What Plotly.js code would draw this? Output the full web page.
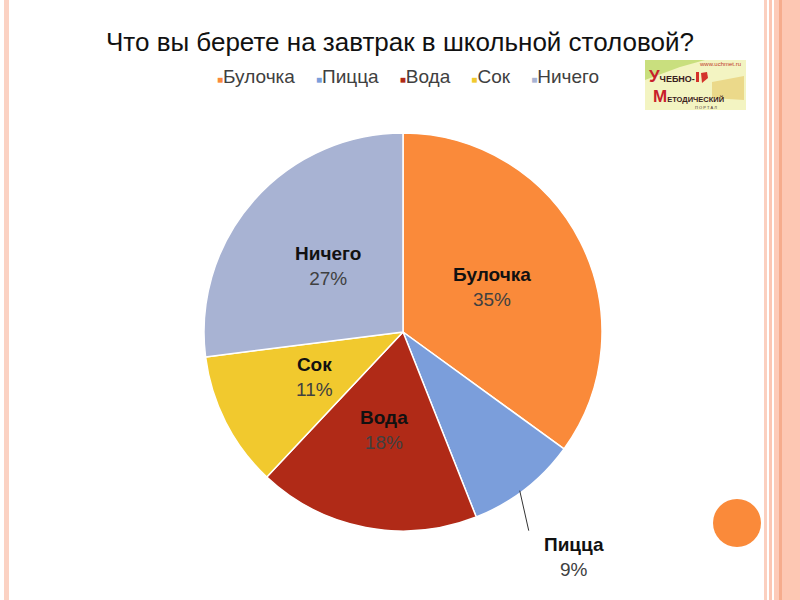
<!DOCTYPE html>
<html>
<head>
<meta charset="utf-8">
<script src="https://cdn.plot.ly/plotly-3.0.1.min.js"></script>
<style>html,body{margin:0;padding:0;background:#fff;}#chart{width:800px;height:600px;}</style>
</head>
<body>
<div id="chart"></div>
<script>
// ---- data ----
const categories = ['Булочка', 'Пицца', 'Вода', 'Сок', 'Ничего'];
const values = [35, 9, 18, 11, 27];
const colors = ['#FA8A3A', '#7B9EDB', '#B02A17', '#F1C92E', '#A8B3D3'];
const outsideLabel = 'Пицца';
const chartTitle = 'Что вы берете на завтрак в школьной столовой?';

// ---- geometry (style) ----
const W = 800, H = 600;
const cx = 403, cy = 332, R = 199;
const FONT = 'Liberation Sans, Arial, sans-serif';
const P = (x) => x / W, Q = (y) => 1 - y / H;

const trace = {
  type: 'pie',
  labels: categories,
  values: values,
  sort: false,
  direction: 'clockwise',
  rotation: 0,
  marker: {colors: colors, line: {color: '#ffffff', width: 1.5}},
  textinfo: 'none',
  textposition: 'none',
  hoverinfo: 'label+percent',
  showlegend: false,
  domain: {x: [(cx - R) / W, (cx + R) / W], y: [1 - (cy + R) / H, 1 - (cy - R) / H]}
};

// data labels placed along each slice bisector (from the data)
const total = values.reduce((a, b) => a + b, 0);
const annotations = [];
const shapes = [];
let cum = 0;
const labelText = (c, v) => '<b>' + c + '</b><br><span style="color:#404040">' + v + '%</span>';
categories.forEach((c, i) => {
  const mid = 2 * Math.PI * (cum + values[i] / 2) / total;
  cum += values[i];
  const s = Math.sin(mid), co = Math.cos(mid);
  if (c === outsideLabel) {
    const px0 = cx + 0.99 * R * s - 4, py0 = cy - 0.99 * R * co + 3;
    shapes.push({type: 'line', xref: 'paper', yref: 'paper', x0: P(px0), y0: Q(py0), x1: P(px0 + 9), y1: Q(py0 + 40),
                 line: {color: '#333333', width: 1}});
    annotations.push({xref: 'paper', yref: 'paper', x: P(px0 + 54), y: Q(py0 + 66), xanchor: 'center', yanchor: 'middle',
                      showarrow: false, align: 'center', text: labelText(c, values[i]),
                      font: {family: FONT, size: 19, color: '#111111'}});
  } else {
    const lx = cx + 0.5 * R * s, ly = cy - 0.5 * R * co;
    annotations.push({xref: 'paper', yref: 'paper', x: P(lx), y: Q(ly), xanchor: 'center', yanchor: 'middle',
                      showarrow: false, align: 'center', text: labelText(c, values[i]),
                      font: {family: FONT, size: 19, color: '#111111'}});
  }
});

// legend row (coloured squares + names from the data)
const legendText = categories.map((c, i) =>
  '<span style="color:' + colors[i] + ';font-size:10px">■</span>' + c).join('\u00A0\u00A0\u00A0\u00A0');
annotations.push({xref: 'paper', yref: 'paper', x: P(408), y: Q(76), xanchor: 'center', yanchor: 'middle',
                  showarrow: false, text: legendText, font: {family: FONT, size: 19, color: '#404040'}});

// decorations
shapes.push(
  {type: 'rect', xref: 'paper', yref: 'paper', x0: P(4), x1: P(9), y0: 0, y1: 1, fillcolor: '#FBD2C3', line: {width: 0}, layer: 'below'},
  {type: 'rect', xref: 'paper', yref: 'paper', x0: P(764), x1: P(767), y0: 0, y1: 1, fillcolor: '#FBCFBF', line: {width: 0}, layer: 'below'},
  {type: 'rect', xref: 'paper', yref: 'paper', x0: P(769), x1: P(772), y0: 0, y1: 1, fillcolor: '#FCC6B3', line: {width: 0}, layer: 'below'},
  {type: 'rect', xref: 'paper', yref: 'paper', x0: P(774), x1: P(779), y0: 0, y1: 1, fillcolor: '#FDCBB9', line: {width: 0}, layer: 'below'},
  {type: 'rect', xref: 'paper', yref: 'paper', x0: P(779), x1: P(782), y0: 0, y1: 1, fillcolor: '#F6AC8D', line: {width: 0}, layer: 'below'},
  {type: 'rect', xref: 'paper', yref: 'paper', x0: P(782), x1: P(800), y0: 0, y1: 1, fillcolor: '#FDC7B3', line: {width: 0}, layer: 'below'},
  {type: 'circle', xref: 'paper', yref: 'paper', x0: P(713), x1: P(761), y0: Q(547), y1: Q(499), fillcolor: '#FA8A3A', line: {width: 0}},
  // logo background
  {type: 'rect', xref: 'paper', yref: 'paper', x0: P(645), x1: P(746), y0: Q(110), y1: Q(60), fillcolor: '#F3F4C2', line: {width: 0}}
);
const poly = (pts, fill) => ({type: 'path', xref: 'paper', yref: 'paper', fillcolor: fill, line: {width: 0},
  path: 'M ' + pts.map(p => P(p[0]) + ',' + Q(p[1])).join(' L ') + ' Z'});
shapes.push(poly([[645, 60], [705, 60], [680, 67], [645, 80]], '#C9DF7E'));
shapes.push(poly([[712, 82], [744, 76], [744, 100], [712, 98]], '#EBD98A'));
shapes.push(poly([[696, 72], [699, 72], [699, 82], [696, 82]], '#D4322A'));
shapes.push(poly([[701, 73], [707, 72], [708, 78], [702, 83]], '#D4322A'));

annotations.push(
  {xref: 'paper', yref: 'paper', x: P(742), y: Q(64), xanchor: 'right', yanchor: 'middle', showarrow: false,
   borderpad: 0, text: 'www.uchmet.ru', font: {family: FONT, size: 6, color: '#C0392B'}},
  {xref: 'paper', yref: 'paper', x: P(648), y: Q(77), xanchor: 'left', yanchor: 'middle', showarrow: false,
   borderpad: 0,
   text: '<span style="color:#C8202A;font-size:17px"><b>У</b></span><b>ЧЕБНО-</b>',
   font: {family: FONT, size: 9, color: '#3A2020'}},
  {xref: 'paper', yref: 'paper', x: P(652), y: Q(96), xanchor: 'left', yanchor: 'middle', showarrow: false,
   borderpad: 0,
   text: '<span style="color:#C8202A;font-size:17px"><b>М</b></span><b>ЕТОДИЧЕСКИЙ</b>',
   font: {family: FONT, size: 7.5, color: '#3A2020'}},
  {xref: 'paper', yref: 'paper', x: P(706), y: Q(107.5), xanchor: 'center', yanchor: 'middle', showarrow: false,
   borderpad: 0, text: 'П О Р Т А Л', font: {family: FONT, size: 4, color: '#4A3030'}}
);

const layout = {
  width: W, height: H,
  margin: {l: 0, r: 0, t: 0, b: 0},
  paper_bgcolor: '#ffffff',
  font: {family: FONT, color: '#111'},
  title: {text: chartTitle, x: 0.5, xanchor: 'center', y: Q(42), yanchor: 'middle', yref: 'paper',
          font: {family: FONT, size: 26, color: '#111111'}},
  showlegend: false,
  shapes: shapes,
  annotations: annotations
};

Plotly.newPlot('chart', [trace], layout, {displayModeBar: false, staticPlot: true});
</script>
</body>
</html>
